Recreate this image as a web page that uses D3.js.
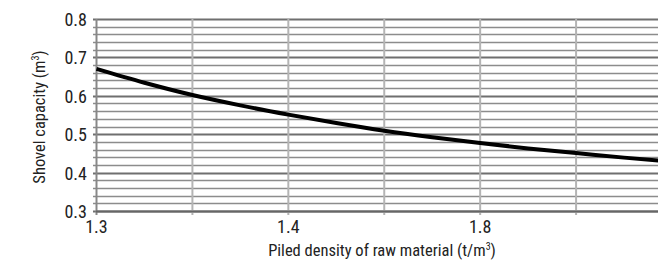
<!DOCTYPE html>
<html>
<head>
<meta charset="utf-8">
<script src="https://cdn.jsdelivr.net/npm/d3@7"></script>
<style>
  body { margin: 0; background: #fff; }
  text { font-family: "Liberation Sans Narrow", "Roboto Condensed", "Liberation Sans", Arial, sans-serif; fill: #222; }
</style>
</head>
<body>
<div class="canvas"></div>
<script>
// data
const gridPos = [0, 1, 2, 3, 4, 5, 6];             // vertical grid lines
const xTickLabels = ['1.3', '', '1.4', '', '1.8', '', ''];
const curveX = [0, 0.5, 1, 1.5, 2, 2.5, 3, 3.5, 4, 4.5, 5, 5.5, 6];
const curveY = [0.670, 0.634, 0.602, 0.575, 0.551, 0.529, 0.509, 0.492, 0.477, 0.463, 0.451, 0.439, 0.428];
const yTicks = [0.3, 0.4, 0.5, 0.6, 0.7, 0.8];

const dims = { width: 658, height: 262 };
const svg = d3.select('.canvas').append('svg')
              .attr('width', dims.width)
              .attr('height', dims.height);

const x = d3.scaleLinear().domain([0, 6]).range([96.5, 672]);
const y = d3.scaleLinear().domain([0.3, 0.8]).range([211, 19]);

// minor horizontal lines every 0.02
const isMajor = d => yTicks.some(t => Math.abs(t - d) < 1e-6);
const minor = d3.range(0.30, 0.801, 0.02).map(v => +v.toFixed(2));
svg.selectAll('.hline').data(minor).enter()
   .append('line')
   .attr('x1', 93).attr('x2', dims.width)
   .attr('y1', d => Math.round(y(d)) + 0.5).attr('y2', d => Math.round(y(d)) + 0.5)
   .attr('stroke', d => isMajor(d) ? '#6f6f6f' : '#8c8c8c')
   .attr('stroke-width', d => isMajor(d) ? 1.8 : 1.3);

// vertical grid lines
svg.selectAll('.vline').data(gridPos).enter()
   .append('line')
   .attr('x1', d => x(d)).attr('x2', d => x(d))
   .attr('y1', 19).attr('y2', 215)
   .attr('stroke', d => d === 0 ? '#888' : '#b4b4b4')
   .attr('stroke-width', 2);

// bottom axis line
svg.append('line')
   .attr('x1', 96).attr('x2', dims.width)
   .attr('y1', 211.5).attr('y2', 211.5)
   .attr('stroke', '#666').attr('stroke-width', 2);

// y tick labels
svg.selectAll('.ylab').data(yTicks).enter()
   .append('text')
   .attr('x', 87).attr('y', d => y(d) + 7)
   .attr('text-anchor', 'end')
   .attr('font-size', 18)
   .text(d => d.toFixed(1));

// x tick labels
svg.selectAll('.xlab').data(gridPos).enter()
   .append('text')
   .attr('x', d => x(d)).attr('y', 233)
   .attr('text-anchor', 'middle')
   .attr('font-size', 18)
   .text((d, i) => xTickLabels[i]);

// the curve
const pts = curveX.map((v, i) => [v, curveY[i]]);
svg.append('path')
   .datum(pts)
   .attr('fill', 'none')
   .attr('stroke', '#000')
   .attr('stroke-width', 4)
   .attr('d', d3.line().x(d => x(d[0])).y(d => y(d[1])).curve(d3.curveMonotoneX));

// axis titles
const xt = svg.append('text')
   .attr('x', 382).attr('y', 256)
   .attr('text-anchor', 'middle')
   .attr('font-size', 16.5);
xt.append('tspan').text('Piled density of raw material (t/m');
xt.append('tspan').attr('font-size', 10).attr('dy', -6).text('3');
xt.append('tspan').attr('dy', 6).text(')');

const yt = svg.append('text')
   .attr('transform', 'translate(45,117) rotate(-90)')
   .attr('text-anchor', 'middle')
   .attr('font-size', 16.5);
yt.append('tspan').text('Shovel capacity (m');
yt.append('tspan').attr('font-size', 10).attr('dy', -6).text('3');
yt.append('tspan').attr('dy', 6).text(')');
</script>
</body>
</html>
